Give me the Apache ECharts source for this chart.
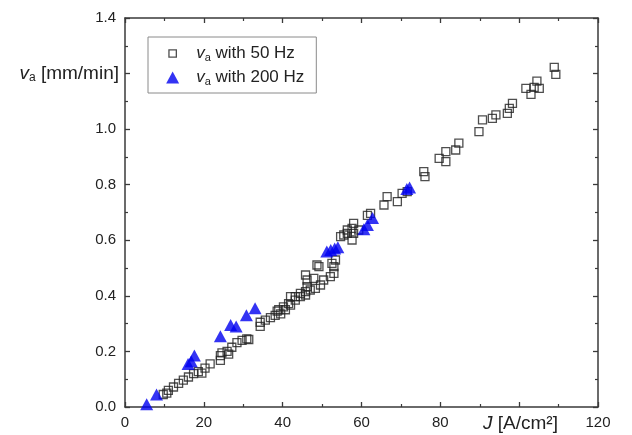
<!DOCTYPE html>
<html>
<head>
<meta charset="utf-8">
<script src="https://cdn.jsdelivr.net/npm/echarts@6/dist/echarts.min.js"></script>
<style>html,body{margin:0;padding:0;background:#fff}#c{width:632px;height:435px}</style>
</head>
<body>
<div id="c"></div>
<script>
// Data (J in A/cm², va in mm/min)
const j50 = [9.7,10.6,11.0,12.3,13.6,14.8,16.1,17.4,18.6,19.5,20.3,21.6,24.2,24.2,24.6,25.9,26.3,27.1,28.4,29.7,30.9,31.4,
  34.3,34.3,35.6,36.9,38.1,38.6,39.0,39.5,40.2,40.7,41.5,42.0,42.0,43.2,43.2,44.5,44.5,45.8,45.8,45.8,46.2,46.2,47.0,47.9,48.3,48.7,49.2,49.6,50.4,52.1,53.0,53.0,52.5,53.4,
  54.7,55.5,56.4,56.4,57.6,57.6,58.0,58.0,59.3,61.5,62.3,65.7,66.5,69.1,70.3,71.6,
  75.8,76.1,79.7,81.4,81.4,83.9,84.7,89.8,90.7,93.2,94.1,97.0,97.5,98.3,101.7,103.0,103.8,104.5,105.1,108.9,109.3];
const va50 = [0.045,0.05,0.06,0.072,0.085,0.097,0.108,0.12,0.127,0.122,0.14,0.155,0.168,0.185,0.195,0.2,0.19,0.215,0.232,0.24,0.245,0.243,
  0.29,0.305,0.313,0.322,0.33,0.345,0.35,0.335,0.36,0.35,0.372,0.367,0.397,0.385,0.397,0.397,0.409,0.403,0.415,0.475,0.433,0.457,0.421,0.463,0.427,0.511,0.505,0.439,0.457,0.469,0.481,0.505,0.517,0.529,
  0.613,0.619,0.625,0.637,0.601,0.643,0.625,0.661,0.637,0.69,0.697,0.727,0.757,0.739,0.769,0.775,
  0.847,0.829,0.895,0.919,0.883,0.925,0.95,0.991,1.033,1.039,1.051,1.057,1.075,1.093,1.147,1.125,1.15,1.173,1.147,1.222,1.197];
const j200 = [5.5,8.0,16.0,16.8,17.6,24.2,26.8,28.2,30.8,33.0,51.2,52.2,53.2,54.0,60.6,61.5,62.8,71.5,72.2];
const va200 = [0.01,0.045,0.155,0.165,0.185,0.255,0.295,0.29,0.33,0.355,0.56,0.565,0.57,0.575,0.64,0.655,0.68,0.785,0.79];

const xTicks = [0,20,40,60,80,100,120];
const yTicks = [0.0,0.2,0.4,0.6,0.8,1.0,1.2,1.4];
const hiddenX = [100];
const hiddenY = [1.2];
const seriesNames = ['va with 50 Hz','va with 200 Hz'];
const legendTexts = ['with 50 Hz','with 200 Hz'];
const yName = '[mm/min]';
const xName = 'J [A/cm²]';

const font = 'Liberation Sans, Arial, sans-serif';
const axisCol = '#3a3a3a';
const txtCol = '#222';
const blue = '#0000f0';

function pairs(xs, ys){ return xs.map((x,i)=>[x, ys[i]]); }

const baseX = {
  type:'value', min:0, max:120, interval:20,
  axisLine:{show:true, onZero:false, lineStyle:{color:axisCol, width:1.5}},
  axisTick:{show:true, inside:true, length:5, lineStyle:{color:axisCol, width:1.3}},
  minorTick:{show:true, splitNumber:2, length:3, lineStyle:{color:axisCol, width:1.2}},
  splitLine:{show:false}
};
const baseY = {
  type:'value', min:0, max:1.4, interval:0.2,
  axisLine:{show:true, onZero:false, lineStyle:{color:axisCol, width:1.5}},
  axisTick:{show:true, inside:true, length:5, lineStyle:{color:axisCol, width:1.3}},
  minorTick:{show:true, splitNumber:2, length:3, lineStyle:{color:axisCol, width:1.2}},
  splitLine:{show:false}
};

const chart = echarts.init(document.getElementById('c'), null, {renderer:'canvas'});
chart.setOption({
  animation:false,
  backgroundColor:'#fff',
  grid:{left:125, right:34, top:18, bottom:28, containLabel:false},
  xAxis:[
    Object.assign({}, baseX, {position:'bottom',
      axisLabel:{show:true, margin:8, color:txtCol, fontFamily:font, fontSize:15,
        formatter:v=> hiddenX.includes(v) ? '' : String(v)}}),
    Object.assign({}, baseX, {position:'top', axisLabel:{show:false}})
  ],
  yAxis:[
    Object.assign({}, baseY, {position:'left',
      axisLabel:{show:true, margin:9, color:txtCol, fontFamily:font, fontSize:15,
        formatter:v=> hiddenY.some(h=>Math.abs(h-v)<1e-6) ? '' : v.toFixed(1)}}),
    Object.assign({}, baseY, {position:'right', axisLabel:{show:false}})
  ],
  legend:{
    show:true, orient:'vertical', left:148, top:37,
    borderColor:'#8a8a8a', borderWidth:1, borderRadius:0,
    padding:[7,12,6,18], itemGap:5, itemWidth:13, itemHeight:12,
    data:[
      {name:seriesNames[0], icon:'path://M0,0L0,0M2.5,2.5L10.5,2.5L10.5,10.5L2.5,10.5Z M13,13L13,13',
        itemStyle:{color:'rgba(0,0,0,0)', borderColor:'#222', borderWidth:1.3}},
      {name:seriesNames[1], icon:'triangle', itemStyle:{color:blue}}
    ],
    formatter:function(name){
      const i = seriesNames.indexOf(name);
      return '{v|v}{s|a}{t| ' + legendTexts[i] + '}';
    },
    textStyle:{
      fontFamily:font, fontSize:17, color:txtCol, lineHeight:19,
      rich:{
        v:{fontFamily:font, fontSize:17, fontStyle:'italic', color:txtCol, padding:[0,0,0,12]},
        s:{fontFamily:font, fontSize:11, color:txtCol, verticalAlign:'bottom', padding:[7,0,0,0]},
        t:{fontFamily:font, fontSize:17, color:txtCol}
      }
    }
  },
  graphic:[
    {type:'text', x:119, y:74,
      style:{text:'{v|v}{s|a}{t| ' + yName + '}', fill:txtCol, align:'right', verticalAlign:'middle',
        rich:{
          v:{fontFamily:font, fontSize:19, fontStyle:'italic', fill:txtCol},
          s:{fontFamily:font, fontSize:12, fill:txtCol, verticalAlign:'bottom', padding:[8,0,0,0]},
          t:{fontFamily:font, fontSize:19, fill:txtCol}
        }}},
    {type:'text', x:483, y:424,
      style:{text:'{j|J}{t|' + xName.slice(1) + '}', fill:txtCol, align:'left', verticalAlign:'middle',
        rich:{
          j:{fontFamily:font, fontSize:19, fontStyle:'italic', fill:txtCol},
          t:{fontFamily:font, fontSize:19, fill:txtCol}
        }}}
  ],
  series:[
    {name:seriesNames[0], type:'scatter', symbol:'rect', symbolSize:8, z:2,
      itemStyle:{color:'rgba(255,255,255,0)', borderColor:'#222', borderWidth:1.3},
      data:pairs(j50, va50)},
    {name:seriesNames[1], type:'scatter', symbol:'triangle', symbolSize:[13,12], z:3,
      itemStyle:{color:blue},
      data:pairs(j200, va200)}
  ]
});
</script>
</body>
</html>
